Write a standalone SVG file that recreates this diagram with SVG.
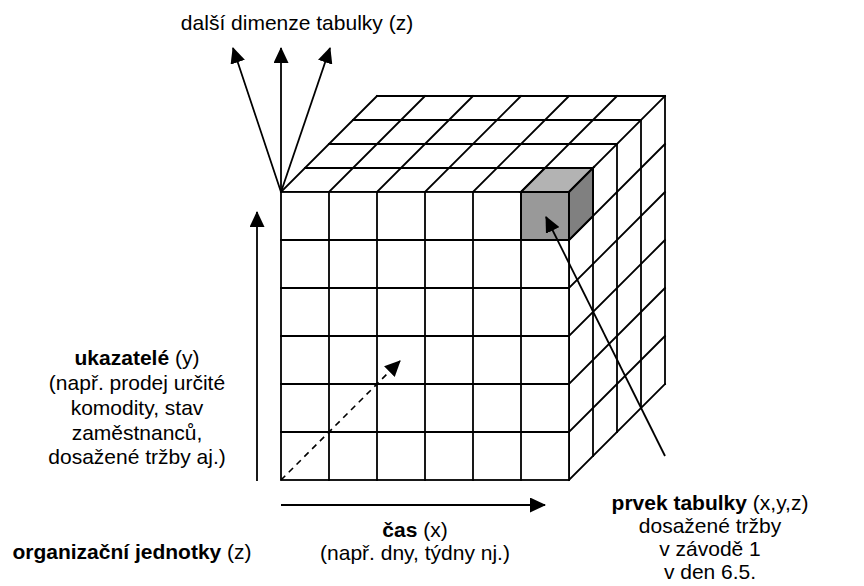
<svg xmlns="http://www.w3.org/2000/svg" width="864" height="586" viewBox="0 0 864 586">
<style>
.g{stroke:#000;stroke-width:1.8;fill:none;stroke-linecap:square}
.c{stroke:#000;stroke-width:1.8;fill:none}
.d{stroke:#000;stroke-width:1.6;fill:none;stroke-dasharray:6 5}
.t{font-family:"Liberation Sans",Arial,sans-serif;font-size:21px;fill:#000;text-anchor:middle}
.b{font-weight:bold}
.cube{stroke:#000;stroke-width:2;stroke-linejoin:miter}
</style>
<defs>
<marker id="ah" markerUnits="userSpaceOnUse" markerWidth="17" markerHeight="15" refX="15" refY="7.5" orient="auto">
<path d="M0,0 L16,7.5 L0,15 z" fill="#000"/>
</marker>
</defs>
<rect width="864" height="586" fill="#fff"/>
<g id="cube">
<g id="top-face" class="g">
<path d="M281,192H569M305,168H593M329,144H617M353,120H641M377,96H665"/>
<path d="M281,192L377,96M329,192L425,96M377,192L473,96M425,192L521,96M473,192L569,96M521,192L617,96M569,192L665,96"/>
</g>
<g id="right-face" class="g">
<path d="M569,192V480M593,168V456M617,144V432M641,120V408M665,96V384"/>
<path d="M569,240L665,144M569,288L665,192M569,336L665,240M569,384L665,288M569,432L665,336M569,480L665,384"/>
</g>
<g id="front-face" class="g">
<rect x="281" y="192" width="288" height="288" fill="#fff"/>
<path d="M329,192V480M377,192V480M425,192V480M473,192V480M521,192V480"/>
<path d="M281,240H569M281,288H569M281,336H569M281,384H569M281,432H569"/>
</g>
</g>
<g id="element">
<rect class="cube" x="521" y="192" width="48" height="48" fill="#999"/>
<path class="cube" d="M521,192L545,168H593L569,192Z" fill="#b3b3b3"/>
<path class="cube" d="M569,192L593,168V216L569,240Z" fill="#808080"/>
</g>
<g id="connectors">
<line class="c" x1="281" y1="192" x2="233" y2="48" marker-end="url(#ah)"/>
<line class="c" x1="281" y1="192" x2="281" y2="48" marker-end="url(#ah)"/>
<line class="c" x1="281" y1="192" x2="330" y2="48" marker-end="url(#ah)"/>
<line class="c" x1="257" y1="481" x2="257" y2="212" marker-end="url(#ah)"/>
<line class="c" x1="281" y1="505" x2="545" y2="505" marker-end="url(#ah)"/>
<line class="d" x1="281" y1="480" x2="400" y2="361" marker-end="url(#ah)"/>
<line class="c" x1="665" y1="456" x2="546" y2="217" marker-end="url(#ah)"/>
</g>
<g id="label-z-top">
<text class="t" x="297" y="30">další dimenze tabulky (z)</text>
</g>
<g id="label-y">
<text class="t" x="137" y="365"><tspan class="b">ukazatelé</tspan> (y)</text>
<text class="t" x="137" y="390">(např. prodej určité</text>
<text class="t" x="137" y="415">komodity, stav</text>
<text class="t" x="137" y="440">zaměstnanců,</text>
<text class="t" x="137" y="464">dosažené tržby aj.)</text>
</g>
<g id="label-z">
<text class="t" x="132" y="559"><tspan class="b">organizační jednotky</tspan> (z)</text>
</g>
<g id="label-x">
<text class="t" x="415" y="537"><tspan class="b">čas</tspan> (x)</text>
<text class="t" x="415" y="560">(např. dny, týdny nj.)</text>
</g>
<g id="label-element">
<text class="t" x="710" y="510"><tspan class="b">prvek tabulky</tspan> (x,y,z)</text>
<text class="t" x="710" y="533">dosažené tržby</text>
<text class="t" x="710" y="556">v závodě 1</text>
<text class="t" x="710" y="579">v den 6.5.</text>
</g>
</svg>
